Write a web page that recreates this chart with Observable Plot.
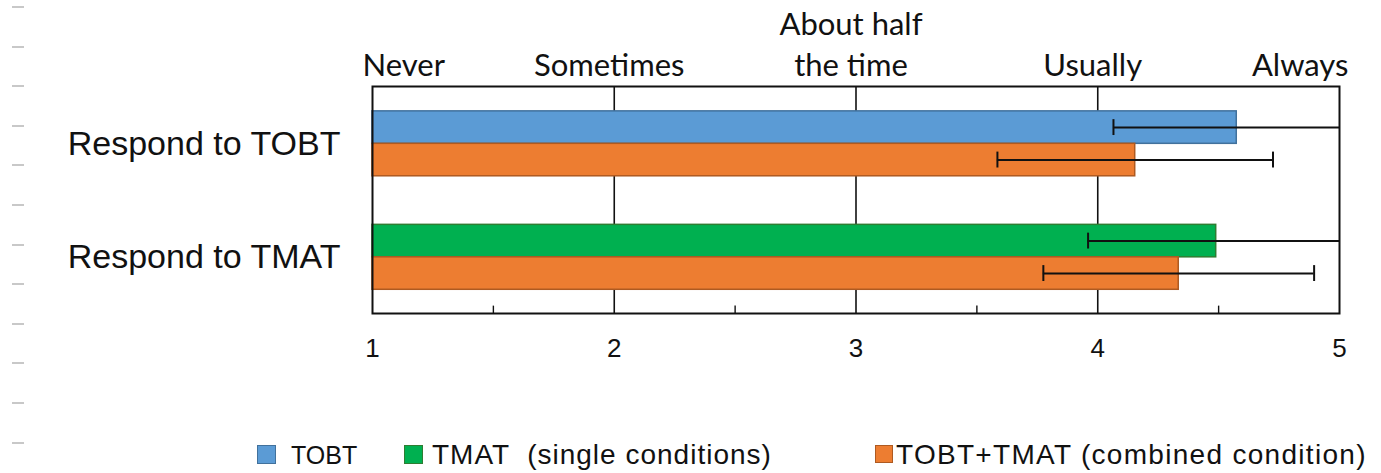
<!DOCTYPE html>
<html>
<head>
<meta charset="utf-8">
<script src="https://cdn.jsdelivr.net/npm/d3@7"></script>
<script src="https://cdn.jsdelivr.net/npm/@observablehq/plot@0.6"></script>
<style>
  html, body { margin: 0; padding: 0; background: #fff; }
  #wrap { position: relative; width: 1381px; height: 473px; overflow: hidden; }
  #dashes { position: absolute; left: 12px; top: 6px; width: 12px; height: 440px;
    background: repeating-linear-gradient(to bottom, #c8c8c8 0px, #c8c8c8 2px, transparent 2px, transparent 39.6px); }
  .leg { position: absolute; white-space: pre; color: #111; }
  .sw { position: absolute; box-sizing: border-box; }
</style>
</head>
<body>
<div id="wrap">
  <div id="dashes"></div>
  <div id="chart"></div>
  <div id="legend"></div>
</div>
<script>
// ---- data ----
const groups = ["Respond to TOBT", "Respond to TMAT"];
const singleLabels = ["TOBT", "TMAT"];
const singleMeans = [4.575, 4.49];
const singleSD = [0.51, 0.53];
const combinedLabel = "TOBT+TMAT";
const combinedMeans = [4.155, 4.335];
const combinedSD = [0.57, 0.56];
const tickValues = [1, 2, 3, 4, 5];
const gridValues = [2, 3, 4];
const minorTicks = [1.5, 2.5, 3.5, 4.5];
const scaleLabels = ["Never", "Sometimes", "About half\nthe time", "Usually", "Always"];
const legendLabels = ["TOBT", "TMAT  (single conditions)", "TOBT+TMAT (combined condition)"];

const colors = { TOBT: "#5B9BD5", TMAT: "#00B050", "TOBT+TMAT": "#ED7D31" };
const strokes = { TOBT: "#41719C", TMAT: "#2E7D32", "TOBT+TMAT": "#AE5A21" };

// ---- build rows ----
const barH = 0.286;
const rows = [];
groups.forEach((g, i) => {
  const c = i + 0.505;
  rows.push({ group: g, series: singleLabels[i], mean: singleMeans[i], sd: singleSD[i], y1: c - barH, y2: c, yc: c - barH / 2 });
  rows.push({ group: g, series: combinedLabel, mean: combinedMeans[i], sd: combinedSD[i], y1: c, y2: c + barH, yc: c + barH / 2 });
});
const xMax = 5;
const errs = rows.map(d => ({ ...d, lo: d.mean - d.sd, hi: Math.min(d.mean + d.sd, xMax), hiCap: d.mean + d.sd < xMax }));
const capH = 0.07;

const labelData = scaleLabels.map((t, i) => ({ t, v: tickValues[i] }));

const chart = Plot.plot({
  width: 1381,
  height: 430,
  marginTop: 86,
  marginBottom: 117,
  marginLeft: 372,
  marginRight: 42,
  style: { fontFamily: "Liberation Sans, Arial, sans-serif", fontSize: "26px", color: "#111", background: "transparent" },
  x: { domain: [1, 5], ticks: tickValues, tickSize: 0, tickPadding: 25, tickFormat: d => String(d), label: null },
  y: { domain: [0, 2], reverse: true, axis: null },
  marks: [
    Plot.ruleX(gridValues, { stroke: "#111", strokeWidth: 1.6 }),
    Plot.ruleX(minorTicks, { y1: 2, y2: 2 - 0.065, stroke: "#111", strokeWidth: 1.4 }),
    Plot.rect(rows, {
      x1: 1, x2: "mean", y1: "y1", y2: "y2",
      fill: d => colors[d.series], stroke: d => strokes[d.series], strokeWidth: 1.5
    }),
    Plot.ruleY(errs, { y: "yc", x1: "lo", x2: "hi", stroke: "#111", strokeWidth: 2 }),
    Plot.ruleX(errs, { x: "lo", y1: d => d.yc - capH, y2: d => d.yc + capH, stroke: "#111", strokeWidth: 2 }),
    Plot.ruleX(errs.filter(d => d.hiCap), { x: "hi", y1: d => d.yc - capH, y2: d => d.yc + capH, stroke: "#111", strokeWidth: 2 }),
    Plot.frame({ stroke: "#111", strokeWidth: 2 }),
    Plot.text(groups, {
      x: 1, y: (d, i) => i + 0.505, text: d => d, dx: -32, textAnchor: "end",
      fontSize: 34, fontFamily: "Liberation Sans, Arial, sans-serif", fill: "#111"
    }),
    Plot.text(labelData.filter((d, i) => i === 0), {
      x: "v", text: "t", frameAnchor: "top", dy: -11, lineAnchor: "bottom", textAnchor: "start", dx: -10,
      fontSize: 31, fontFamily: "Lato, sans-serif", fill: "#111"
    }),
    Plot.text(labelData.filter((d, i) => i > 0 && i < labelData.length - 1), {
      x: "v", text: "t", frameAnchor: "top", dy: -11, lineAnchor: "bottom", textAnchor: "middle", dx: -5,
      lineHeight: 1.3, fontSize: 31, fontFamily: "Lato, sans-serif", fill: "#111"
    }),
    Plot.text(labelData.filter((d, i) => i === labelData.length - 1), {
      x: "v", text: "t", frameAnchor: "top", dy: -11, lineAnchor: "bottom", textAnchor: "end", dx: 9,
      fontSize: 31, fontFamily: "Lato, sans-serif", fill: "#111"
    })
  ]
});
document.getElementById("chart").appendChild(chart);

// ---- legend ----
const legend = document.getElementById("legend");
const legendSeries = ["TOBT", "TMAT", "TOBT+TMAT"];
const legendLayout = [
  { sx: 257, sy: 445, ss: 19, tx: 291, font: "25px 'Liberation Sans', Arial, sans-serif", ls: "0px" },
  { sx: 404, sy: 445, ss: 19, tx: 432, font: "28px 'Liberation Sans', Arial, sans-serif", ls: "1px" },
  { sx: 875, sy: 445, ss: 18, tx: 896, font: "28px 'Liberation Sans', Arial, sans-serif", ls: "1.3px" }
];
legendSeries.forEach((s, i) => {
  const L = legendLayout[i];
  const sw = document.createElement("div");
  sw.className = "sw";
  Object.assign(sw.style, { left: L.sx + "px", top: L.sy + "px", width: L.ss + "px", height: L.ss + "px",
    background: colors[s], border: "1.5px solid " + strokes[s] });
  legend.appendChild(sw);
  const t = document.createElement("div");
  t.className = "leg";
  t.textContent = legendLabels[i];
  Object.assign(t.style, { left: L.tx + "px", top: "438px", font: L.font, letterSpacing: L.ls, lineHeight: "34px" });
  legend.appendChild(t);
});
</script>
</body>
</html>
